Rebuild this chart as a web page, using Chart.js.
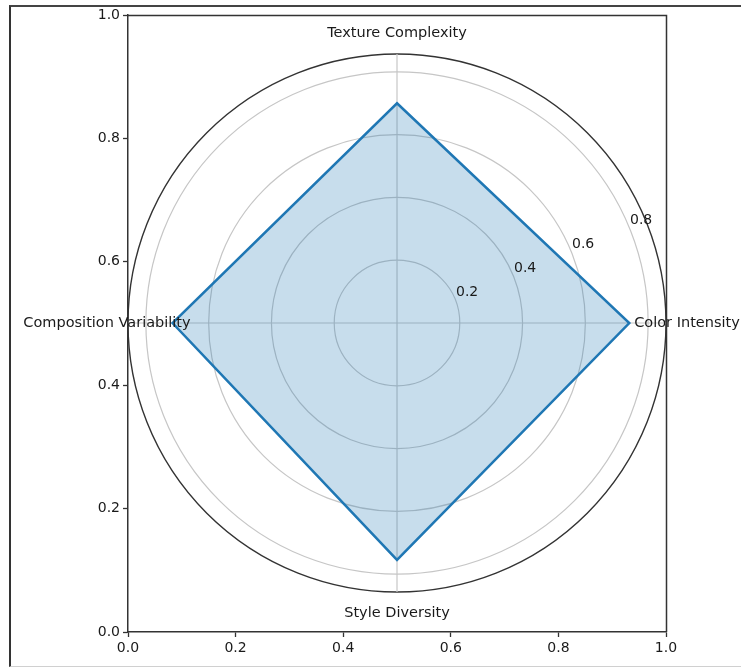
<!DOCTYPE html>
<html>
<head>
<meta charset="utf-8">
<script src="https://cdn.jsdelivr.net/npm/chart.js@4"></script>
<style>
  html, body { margin: 0; padding: 0; background: #fff; }
  #wrap { position: relative; width: 741px; height: 667px; overflow: hidden; }
  #frame { position: absolute; left: 9px; top: 5px; width: 740px; height: 659px;
           border-top: 2px solid #444; border-left: 2px solid #333; border-bottom: 1px solid #d0d0d0; }
  canvas { position: absolute; left: 0; top: 0; }
</style>
</head>
<body>
<div id="wrap">
  <div id="frame"></div>
  <canvas id="radar" width="741" height="667"></canvas>
</div>
<script>
// clockwise from the top, as Chart.js walks the radar
const categories = ["Texture Complexity", "Color Intensity", "Style Diversity", "Composition Variability"];
const values = [0.70, 0.74, 0.755, 0.715];
const radialTicks = [0.2, 0.4, 0.6, 0.8];
const rMax = 0.857;
const axisTicks = [0, 0.2, 0.4, 0.6, 0.8, 1.0];

const textColor = "#1a1a1a";
const lineColor = "#333";
const gridGray = "#c6c6c6";

const frameAxis = (pos, fit) => ({
    type: "linear",
    position: pos,
    min: 0,
    max: 1,
    afterBuildTicks: (s) => { s.ticks = axisTicks.map((v) => ({ value: v })); },
    afterFit: fit,
    ticks: {
        callback: (v) => Number(v).toFixed(1),
        font: { family: "DejaVu Sans", size: 14 },
        color: textColor,
        padding: 3,
        maxRotation: 0,
        autoSkip: false,
    },
    grid: { drawOnChartArea: false, tickLength: 5, color: lineColor, tickWidth: 1.3 },
    border: { color: lineColor, width: 1.5 },
});

const radarExtras = {
    id: "radarExtras",
    afterDatasetsDraw(chart) {
        const ctx = chart.ctx;
        const r = chart.scales.r;
        const area = chart.chartArea;
        ctx.save();
        // top and right spines of the background axes
        ctx.strokeStyle = lineColor;
        ctx.lineWidth = 1.5;
        ctx.beginPath();
        ctx.moveTo(area.left, area.top + 0.5);
        ctx.lineTo(area.right + 0.5, area.top + 0.5);
        ctx.lineTo(area.right + 0.5, area.bottom);
        ctx.stroke();

        // radial tick labels at 22.5 deg, like matplotlib
        ctx.font = '14px "DejaVu Sans"';
        ctx.fillStyle = textColor;
        ctx.textAlign = "left";
        ctx.textBaseline = "bottom";
        const a = 22.5 * Math.PI / 180;
        radialTicks.forEach((v) => {
            const d = r.getDistanceFromCenterForValue(v);
            ctx.fillText(v.toFixed(1), r.xCenter + d * Math.cos(a) + 1, r.yCenter - d * Math.sin(a));
        });

        // category labels centred on a ring outside the plot
        ctx.font = '14.5px "DejaVu Sans"';
        ctx.textAlign = "center";
        ctx.textBaseline = "middle";
        categories.forEach((c, i) => {
            const p = r.getPointPosition(i, r.drawingArea + 21);
            ctx.fillText(c, p.x, p.y);
        });
        ctx.restore();
    },
};

new Chart(document.getElementById("radar").getContext("2d"), {
    type: "radar",
    data: {
        labels: categories,
        datasets: [{
            data: values,
            borderColor: "#1f77b4",
            borderWidth: 2.5,
            backgroundColor: "rgba(31, 119, 180, 0.25)",
            fill: true,
            pointRadius: 0,
            tension: 0,
        }],
    },
    options: {
        responsive: false,
        animation: false,
        layout: { padding: { left: 0, top: 15, right: 75, bottom: 0 } },
        plugins: { legend: { display: false }, tooltip: { enabled: false } },
        scales: {
            r: {
                min: 0,
                max: rMax,
                startAngle: 0,
                afterBuildTicks: (s) => {
                    s.ticks = [0, ...radialTicks, rMax].map((v) => ({ value: v }));
                },
                ticks: { display: false },
                pointLabels: { display: false },
                grid: {
                    circular: true,
                    color: (c) => (c.tick && c.tick.value >= rMax - 1e-9 ? lineColor : gridGray),
                    lineWidth: (c) => (c.tick && c.tick.value >= rMax - 1e-9 ? 1.4 : 1.2),
                },
                angleLines: { color: gridGray, lineWidth: 1.2 },
            },
            x: frameAxis("bottom", (s) => { s.height = 35; }),
            y: frameAxis("left", (s) => { s.width = 128; }),
        },
    },
    plugins: [radarExtras],
});
</script>
</body>
</html>
